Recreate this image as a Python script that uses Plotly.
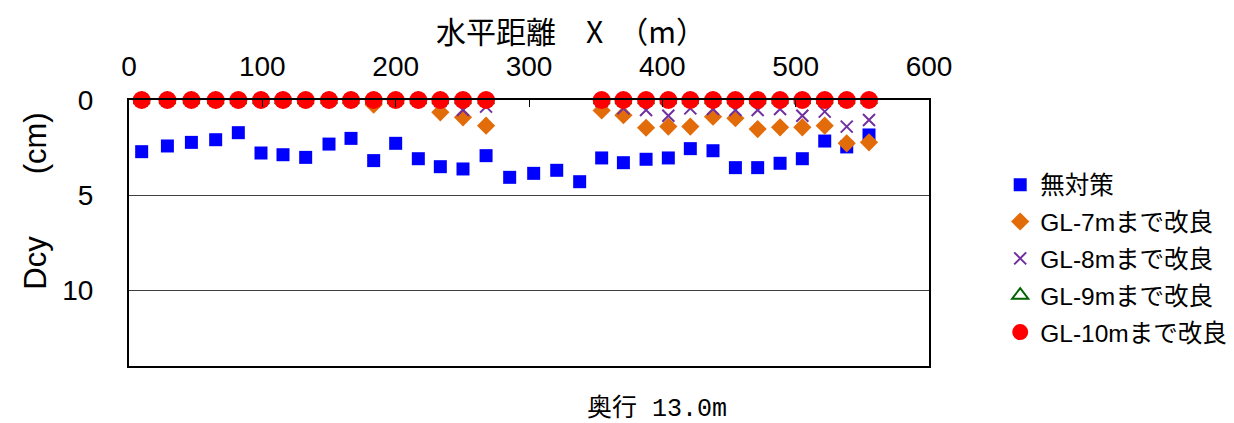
import plotly.graph_objects as go

# horizontal distance (m)
x_all = [9.5, 28.8, 46.8, 65.0, 82.0, 99.0, 115.5, 132.5, 150.0, 166.5, 183.5,
         200.0, 217.0, 233.5, 250.5, 267.8, 285.5, 303.5, 320.8, 338.0, 354.5,
         370.8, 387.8, 404.5, 421.0, 438.0, 454.8, 471.5, 488.3, 505.0, 521.8,
         538.3, 555.0]
# improved sections (no points in the 285-338 m gap)
x_imp = x_all[:16] + x_all[20:]

y_none = [2.72, 2.42, 2.23, 2.09, 1.72, 2.79, 2.88, 3.02, 2.32, 2.02, 3.19,
          2.28, 3.09, 3.51, 3.63, 2.93, 4.07, 3.86, 3.70, 4.30, 3.05,
          3.30, 3.12, 3.05, 2.56, 2.67, 3.56, 3.56, 3.33, 3.09, 2.16,
          2.47, 1.84]
y_gl7 = [0.0, 0.0, 0.0, 0.0, 0.0, 0.0, 0.0, 0.0, 0.0, 0.0, 0.25,
         0.0, 0.0, 0.65, 0.91, 1.35,
         0.55, 0.80, 1.46, 1.40, 1.40, 0.88, 0.96, 1.53, 1.44, 1.44, 1.35,
         2.28, 2.23]
y_gl8 = [0.0, 0.0, 0.0, 0.0, 0.0, 0.0, 0.0, 0.0, 0.0, 0.0, 0.0,
         0.0, 0.0, 0.05, 0.53, 0.35,
         0.05, 0.44, 0.53, 0.83, 0.44, 0.47, 0.53, 0.53, 0.47, 0.83, 0.61,
         1.40, 1.05]
y_gl9 = [0.0] * 29
y_gl10 = [0.0] * 29

names = ["無対策", "GL-7mまで改良", "GL-8mまで改良", "GL-9mまで改良", "GL-10mまで改良"]
x_ticks = [0, 100, 200, 300, 400, 500, 600]
y_ticks = [0, 5, 10]

JP = "Noto Sans CJK JP"
LAT = "Liberation Sans, Noto Sans CJK JP"

fig = go.Figure()
fig.add_trace(go.Scatter(x=x_all, y=y_none, mode="markers", name=names[0],
                         legendgroup="a",
                         marker=dict(symbol="square", size=13, color="#0000FF"),
                         cliponaxis=False))
fig.add_trace(go.Scatter(x=x_imp, y=y_gl7, mode="markers", name=names[1],
                         legendgroup="b",
                         marker=dict(symbol="diamond", size=14, color="#E36C0A"),
                         cliponaxis=False))
fig.add_trace(go.Scatter(x=x_imp, y=y_gl8, mode="markers", name=names[2],
                         legendgroup="c",
                         marker=dict(symbol="x-thin-open", size=12, color="#7030A0",
                                     line=dict(color="#7030A0", width=2)),
                         cliponaxis=False))
fig.add_trace(go.Scatter(x=x_imp, y=y_gl9, mode="markers", name=names[3],
                         legendgroup="d",
                         marker=dict(symbol="triangle-up-open", size=14, color="#006400",
                                     line=dict(color="#006400", width=2)),
                         cliponaxis=False))
fig.add_trace(go.Scatter(x=x_imp, y=y_gl10, mode="markers", name=names[4],
                         legendgroup="e",
                         marker=dict(symbol="circle", size=18, color="#FF0000"),
                         cliponaxis=False))

fig.update_layout(
    width=1280, height=415,
    margin=dict(l=121, r=359, t=92, b=57),
    paper_bgcolor="white", plot_bgcolor="white",
    showlegend=True,
    legend=dict(x=1.089, y=0.766, xanchor="left", yanchor="top",
                font=dict(family=LAT, size=24.5, color="black"),
                tracegroupgap=2, bgcolor="rgba(0,0,0,0)"),
    xaxis=dict(range=[0, 600], side="top", tickvals=x_ticks,
               tickfont=dict(family=LAT, size=28, color="black"),
               ticklabelstandoff=11,
               showline=True, linecolor="black", linewidth=2, mirror=True,
               ticks="inside", ticklen=7, tickcolor="black", tickwidth=1,
               showgrid=False, zeroline=False),
    yaxis=dict(range=[14, 0], tickvals=y_ticks,
               tickfont=dict(family=LAT, size=28, color="black"),
               ticklabelstandoff=28,
               showline=True, linecolor="black", linewidth=2, mirror=True,
               ticks="", showgrid=True, gridcolor="#404040", gridwidth=1,
               zeroline=False),
    annotations=[
        dict(text="水平距離　X　（m）", xref="paper", yref="paper",
             x=0.553, y=1.262, xanchor="center", yanchor="middle",
             showarrow=False, font=dict(family=JP, size=30, color="black")),
        dict(text="Dcy　　(cm)", textangle=-90, xref="paper", yref="paper",
             x=-0.118, y=0.62, xanchor="center", yanchor="middle",
             showarrow=False, font=dict(family=LAT, size=31, color="black")),
        dict(text="奥行 13.0m", xref="paper", yref="paper",
             x=0.66, y=-0.16, xanchor="center", yanchor="middle",
             showarrow=False,
             font=dict(family="Liberation Mono, Noto Sans CJK JP", size=25,
                       color="black")),
    ],
)

fig.write_html("out.html")
